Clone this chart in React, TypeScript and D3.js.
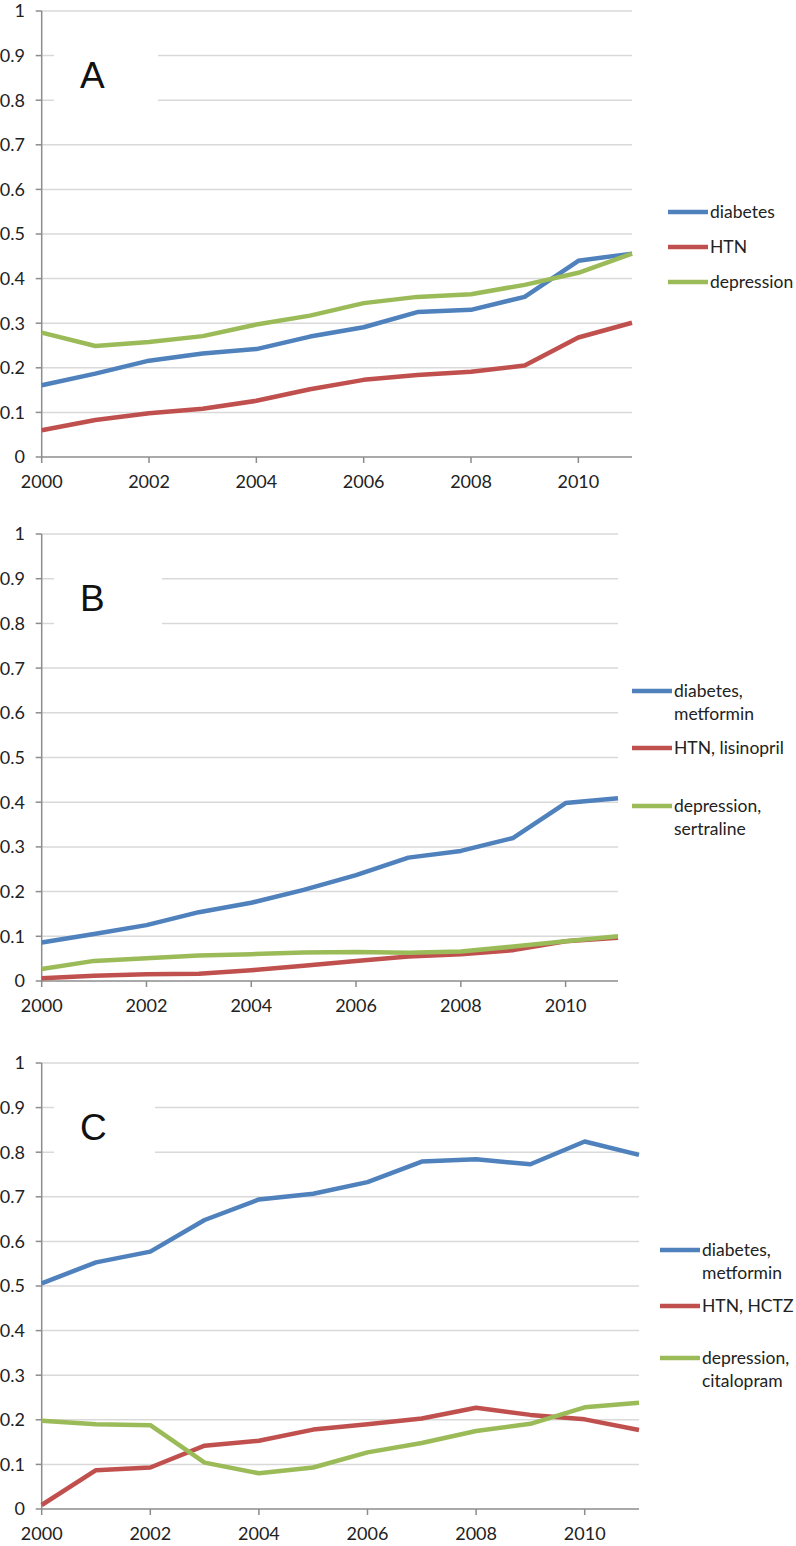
import React from "react";
import * as d3 from "d3";

const years = [2000, 2001, 2002, 2003, 2004, 2005, 2006, 2007, 2008, 2009, 2010, 2011];
const xTickYears = [2000, 2002, 2004, 2006, 2008, 2010];
const xTickLabels = ["2000", "2002", "2004", "2006", "2008", "2010"];
const yTicks = [0, 0.1, 0.2, 0.3, 0.4, 0.5, 0.6, 0.7, 0.8, 0.9, 1];
const yTickLabels = ["0", "0.1", "0.2", "0.3", "0.4", "0.5", "0.6", "0.7", "0.8", "0.9", "1"];

// Panel A
const aDiabetes = [0.161, 0.187, 0.216, 0.232, 0.242, 0.270, 0.291, 0.325, 0.330, 0.359, 0.440, 0.456];
const aHTN = [0.060, 0.083, 0.098, 0.108, 0.126, 0.152, 0.173, 0.184, 0.191, 0.205, 0.268, 0.301];
const aDepression = [0.279, 0.249, 0.258, 0.271, 0.297, 0.317, 0.345, 0.359, 0.365, 0.386, 0.413, 0.456];
const aLegend = [["diabetes"], ["HTN"], ["depression"]];

// Panel B
const bDiabetes = [0.086, 0.105, 0.125, 0.154, 0.175, 0.204, 0.237, 0.276, 0.291, 0.320, 0.398, 0.409];
const bHTN = [0.006, 0.012, 0.015, 0.016, 0.024, 0.034, 0.045, 0.055, 0.060, 0.069, 0.089, 0.097];
const bDepression = [0.027, 0.045, 0.051, 0.057, 0.060, 0.064, 0.065, 0.063, 0.066, 0.077, 0.089, 0.100];
const bLegend = [["diabetes,", "metformin"], ["HTN, lisinopril"], ["depression,", "sertraline"]];

// Panel C
const cDiabetes = [0.506, 0.553, 0.577, 0.648, 0.694, 0.707, 0.733, 0.779, 0.784, 0.773, 0.824, 0.794];
const cHTN = [0.009, 0.087, 0.093, 0.142, 0.153, 0.178, 0.190, 0.203, 0.227, 0.211, 0.201, 0.177];
const cDepression = [0.198, 0.190, 0.188, 0.104, 0.080, 0.093, 0.127, 0.148, 0.175, 0.191, 0.228, 0.238];
const cLegend = [["diabetes,", "metformin"], ["HTN, HCTZ"], ["depression,", "citalopram"]];

const COLORS = ["#4F81BD", "#C0504D", "#9BBB59"];
const FONT = "Lato, 'Open Sans', sans-serif";

type PanelCfg = {
  letter: string;
  series: number[][];
  legend: string[][];
  top: number;
  bottom: number;
  right: number;
  legendY: number[];
  legendX: number;
  boxRight: number;
};

const panels: PanelCfg[] = [
  {
    letter: "A",
    series: [aDiabetes, aHTN, aDepression],
    legend: aLegend,
    top: 11,
    bottom: 457,
    right: 632,
    legendY: [212, 247, 282],
    legendX: 668,
    boxRight: 158,
  },
  {
    letter: "B",
    series: [bDiabetes, bHTN, bDepression],
    legend: bLegend,
    top: 534,
    bottom: 981,
    right: 618,
    legendY: [691, 748, 806],
    legendX: 632,
    boxRight: 162,
  },
  {
    letter: "C",
    series: [cDiabetes, cHTN, cDepression],
    legend: cLegend,
    top: 1063,
    bottom: 1509,
    right: 639,
    legendY: [1250, 1306, 1358],
    legendX: 660,
    boxRight: 155,
  },
];

const LEFT = 41.7;

function Panel({ cfg }: { cfg: PanelCfg }) {
  const x = d3.scaleLinear().domain([2000, 2011]).range([LEFT, cfg.right]);
  const y = d3.scaleLinear().domain([0, 1]).range([cfg.bottom, cfg.top]);
  const line = d3
    .line<number>()
    .x((_, i) => x(years[i]))
    .y((d) => y(d));
  const boxTop = y(0.95);
  const boxBottom = y(0.75);
  return (
    <g>
      {yTicks.map((t, i) =>
        t === 0 ? null : (
          <line
            key={"g" + i}
            x1={LEFT}
            x2={cfg.right}
            y1={y(t)}
            y2={y(t)}
            stroke="#D9D9D9"
            strokeWidth={1.5}
          />
        )
      )}
      <rect x={54} y={boxTop} width={cfg.boxRight - 54} height={boxBottom - boxTop} fill="#fff" />
      <text
        x={80}
        y={y(0.855) + 12}
        fontFamily="'Liberation Sans', Arial, sans-serif"
        fontSize={37}
        fill="#111"
      >
        {cfg.letter}
      </text>
      {yTicks.map((t, i) => (
        <g key={"yt" + i}>
          <line x1={LEFT - 6} x2={LEFT} y1={y(t)} y2={y(t)} stroke="#8C8C8C" strokeWidth={1.5} />
          <text
            x={25}
            y={y(t)}
            dy="0.36em"
            textAnchor="end"
            fontFamily={FONT}
            fontSize={18}
            fill="#222"
          >
            {yTickLabels[i]}
          </text>
        </g>
      ))}
      {xTickYears.map((yr, i) => (
        <g key={"xt" + i}>
          <line x1={x(yr)} x2={x(yr)} y1={cfg.bottom} y2={cfg.bottom + 6} stroke="#8C8C8C" strokeWidth={1.5} />
          <text
            x={x(yr)}
            y={cfg.bottom + 31}
            textAnchor="middle"
            fontFamily={FONT}
            fontSize={18}
            fill="#222"
          >
            {xTickLabels[i]}
          </text>
        </g>
      ))}
      <line x1={LEFT} x2={LEFT} y1={cfg.top} y2={cfg.bottom} stroke="#8C8C8C" strokeWidth={1.5} />
      <line x1={LEFT} x2={cfg.right} y1={cfg.bottom} y2={cfg.bottom} stroke="#8C8C8C" strokeWidth={1.5} />
      {cfg.series.map((s, i) => (
        <path
          key={"s" + i}
          d={line(s) || ""}
          fill="none"
          stroke={COLORS[i]}
          strokeWidth={4.5}
          strokeLinejoin="round"
        />
      ))}
      {cfg.legend.map((lines, i) => (
        <g key={"l" + i}>
          <line
            x1={cfg.legendX}
            x2={cfg.legendX + 40}
            y1={cfg.legendY[i]}
            y2={cfg.legendY[i]}
            stroke={COLORS[i]}
            strokeWidth={4.5}
          />
          {lines.map((ln, j) => (
            <text
              key={j}
              x={cfg.legendX + 42}
              y={cfg.legendY[i] + j * 23}
              dy="0.36em"
              fontFamily={FONT}
              fontSize={17.5}
              fill="#222"
            >
              {ln}
            </text>
          ))}
        </g>
      ))}
    </g>
  );
}

export default function App() {
  return (
    <svg
      width={796}
      height={1546}
      style={{ position: "absolute", left: 0, top: 0, background: "#fff" }}
    >
      <rect x={0} y={0} width={796} height={1546} fill="#fff" />
      {panels.map((p) => (
        <Panel key={p.letter} cfg={p} />
      ))}
    </svg>
  );
}
